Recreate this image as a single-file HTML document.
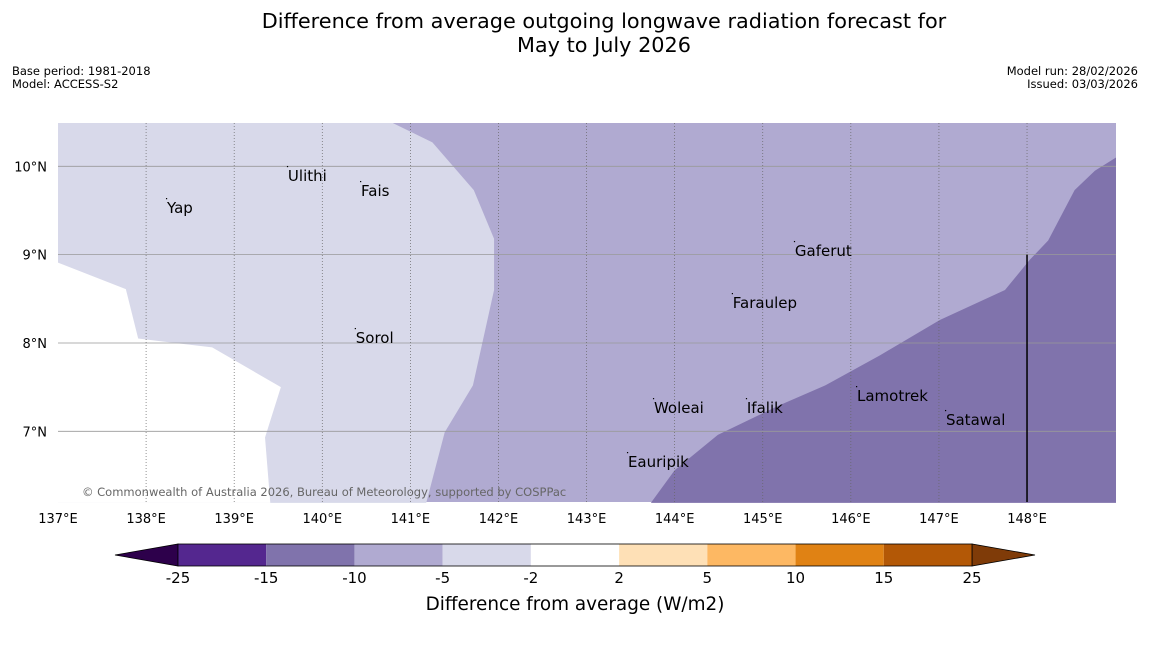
<!DOCTYPE html>
<html><head><meta charset="utf-8"><style>
body{margin:0;background:#fff;font-family:"Liberation Sans","DejaVu Sans",sans-serif}
svg text{font-family:"DejaVu Sans","Liberation Sans",sans-serif}
</style></head><body>
<svg id="chart" width="1150" height="644" viewBox="0 0 1150 644" xmlns="http://www.w3.org/2000/svg">
<text x="604" y="28" font-size="20.8" text-anchor="middle">Difference from average outgoing longwave radiation forecast for</text>
<text x="604" y="52" font-size="20.8" text-anchor="middle">May to July 2026</text>
<text x="12" y="75" font-size="11.5">Base period: 1981-2018</text>
<text x="12" y="88" font-size="11.5">Model: ACCESS-S2</text>
<text x="1138" y="75" font-size="11.5" text-anchor="end">Model run: 28/02/2026</text>
<text x="1138" y="88" font-size="11.5" text-anchor="end">Issued: 03/03/2026</text>
<g id="map"></g>
<g id="cbar"></g>
</svg>
<script>
const NS='http://www.w3.org/2000/svg';
const lonTicks=[137,138,139,140,141,142,143,144,145,146,147,148];
const latTicks=[7,8,9,10];
const whiteRegion=[[137,8.91],[137.77,8.61],[137.91,8.05],[138.33,8.0],[138.75,7.95],[139.53,7.50],[139.35,6.93],[139.41,6.19],[137,6.19]];
const lightRegion=[[137,10.49],[140.80,10.49],[141.25,10.27],[141.72,9.73],[141.95,9.18],[141.95,8.60],[141.71,7.52],[141.39,6.99],[141.18,6.19],[137,6.19]];
const darkRegion=[[143.73,6.19],[144.00,6.56],[144.49,6.96],[145.20,7.30],[145.71,7.52],[146.33,7.86],[147.01,8.26],[147.75,8.60],[148.03,8.94],[148.24,9.16],[148.54,9.73],[148.77,9.95],[149.01,10.10],[149.01,6.19]];
const places=['Yap','Ulithi','Fais','Gaferut','Faraulep','Sorol','Lamotrek','Woleai','Ifalik','Satawal','Eauripik'];
const placeLon=[138.237,139.61,140.44,145.365,144.66,140.38,146.07,143.765,144.82,147.08,143.47];
const placeLat=[9.471,9.834,9.664,8.985,8.396,8.00,7.343,7.207,7.207,7.072,6.596];
const cbarLevels=['-25','-15','-10','-5','-2','2','5','10','15','25'];
const cbarColors=['#54278f','#8073ac','#b0aad1','#d8d9ea','#ffffff','#fee0b6','#fdb863','#e08214','#b35806'];
const X0=58,X1=1116,Y0=123,Y1=502,LON0=137,LON1=149.01,LAT0=6.2,LAT1=10.49;
const x=lon=>X0+(lon-LON0)/(LON1-LON0)*(X1-X0);
const y=lat=>Y1-(lat-LAT0)/(LAT1-LAT0)*(Y1-Y0);
const map=document.getElementById('map');
function mk(tag,attrs,parent){const e=document.createElementNS(NS,tag);for(const k in attrs)e.setAttribute(k,attrs[k]);parent.appendChild(e);return e;}
let bg=mk('rect',{x:X0,y:Y0,width:X1-X0,height:Y1-Y0,fill:'#b0aad1'},map);


function poly(pts,fill,name){const p=mk('polygon',{points:pts.map(d=>x(d[0])+','+y(d[1])).join(' '),fill:fill},map);

}
poly(lightRegion,'#d8d9ea','region-minus5-to-minus2');
poly(whiteRegion,'#ffffff','region-neutral');
poly(darkRegion,'#8073ac','region-minus15-to-minus10');
latTicks.forEach(l=>{const g=mk('line',{x1:X0,x2:X1,y1:y(l),y2:y(l),stroke:'#999','stroke-width':0.8},map);


const t=mk('text',{x:47,y:y(l)+5,'font-size':13,'text-anchor':'end'},map);t.textContent=l+'°N';

});
lonTicks.forEach(l=>{if(l>LON0){const g=mk('line',{x1:x(l),x2:x(l),y1:Y0,y2:Y1,stroke:'#666','stroke-width':0.7,'stroke-dasharray':'1,2'},map);

}
const t=mk('text',{x:x(l),y:523,'font-size':13,'text-anchor':'middle'},map);t.textContent=l+'°E';

});
let vl=mk('line',{x1:x(148),x2:x(148),y1:y(9),y2:Y1,stroke:'#000','stroke-width':1.5},map);


places.forEach((n,i)=>{const d=mk('rect',{x:x(placeLon[i])-1,y:y(placeLat[i])-15,width:1.2,height:1.2,fill:'#000'},map);


const t=mk('text',{x:x(placeLon[i]),y:y(placeLat[i]),'font-size':15},map);t.textContent=n;

});
let cp=mk('text',{x:82,y:496,'font-size':11.5,fill:'#666'},map);cp.textContent='© Commonwealth of Australia 2026, Bureau of Meteorology, supported by COSPPac';


const cb=document.getElementById('cbar');
const CX0=178,CX1=972,CY=544,CH=22,w=(CX1-CX0)/cbarColors.length;
let tl=mk('polygon',{points:`115,555 ${CX0},${CY} ${CX0},${CY+CH}`,fill:'#2d004b',stroke:'#000','stroke-width':0.8},cb);


let tr=mk('polygon',{points:`1035,555 ${CX1},${CY} ${CX1},${CY+CH}`,fill:'#7f3b08',stroke:'#000','stroke-width':0.8},cb);


cbarColors.forEach((c,i)=>{const r=mk('rect',{x:CX0+i*w,y:CY,width:w,height:CH,fill:c},cb);

});
let ol=mk('rect',{x:CX0,y:CY,width:CX1-CX0,height:CH,fill:'none',stroke:'#000','stroke-width':0.8},cb);


cbarLevels.forEach((v,i)=>{const t=mk('text',{x:CX0+i*w,y:583,'font-size':15,'text-anchor':'middle'},cb);t.textContent=v;

});
let ct=mk('text',{x:575,y:610,'font-size':18.4,'text-anchor':'middle'},cb);ct.textContent='Difference from average (W/m2)';


</script>
</body></html>
